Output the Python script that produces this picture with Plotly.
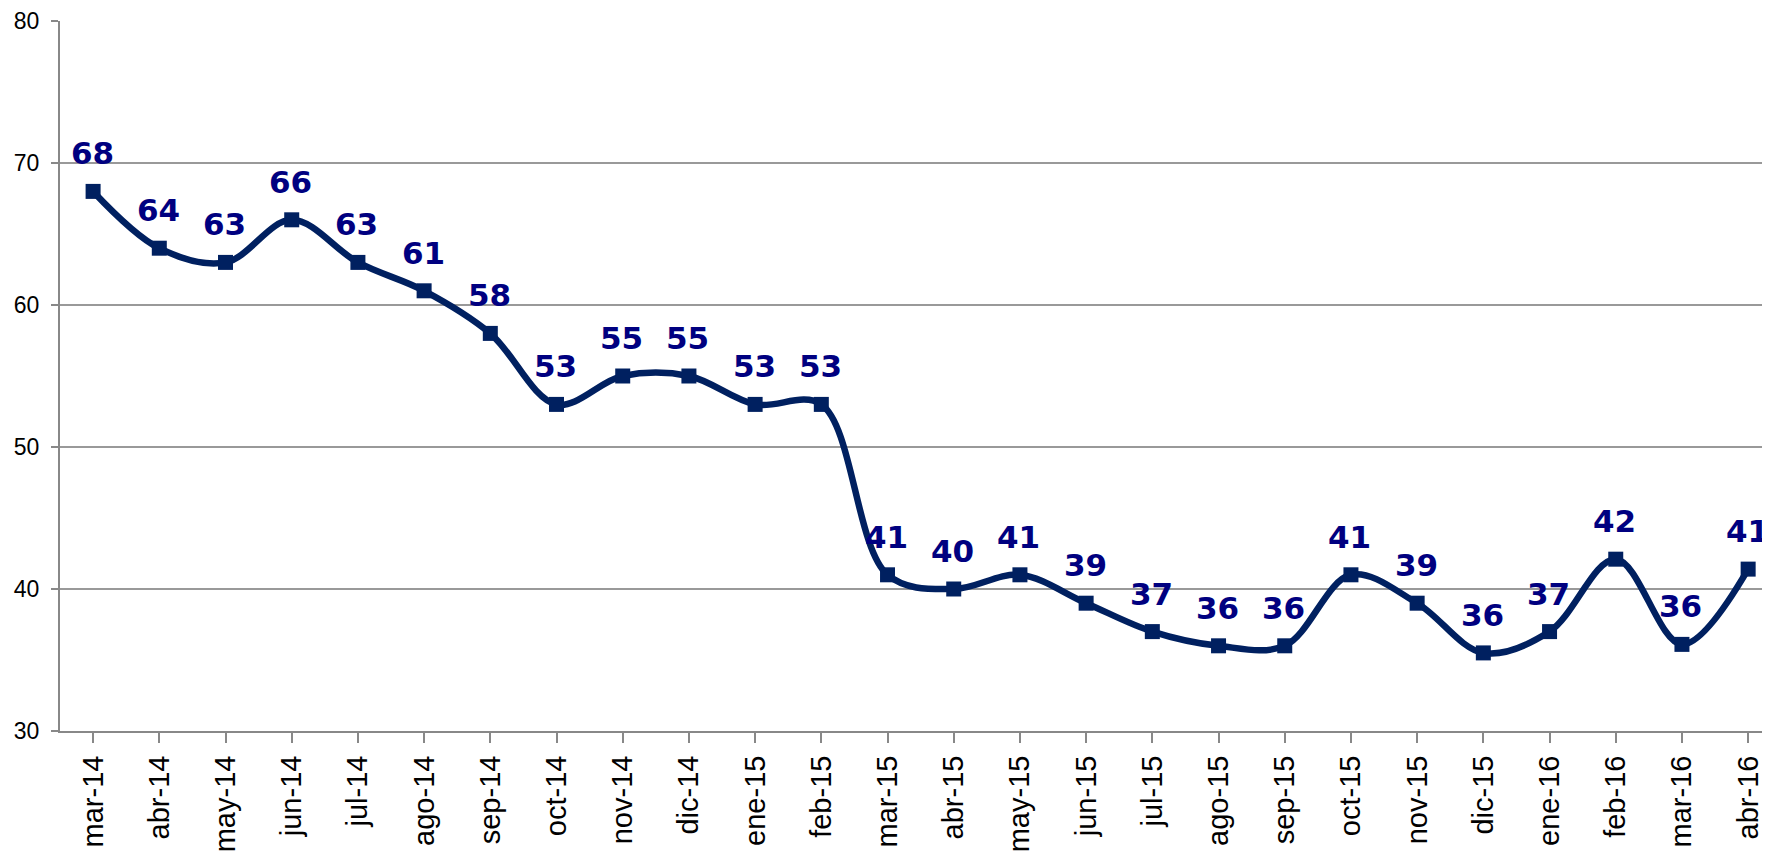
import plotly.graph_objects as go

months = ["mar-14", "abr-14", "may-14", "jun-14", "jul-14", "ago-14", "sep-14", "oct-14",
          "nov-14", "dic-14", "ene-15", "feb-15", "mar-15", "abr-15", "may-15", "jun-15",
          "jul-15", "ago-15", "sep-15", "oct-15", "nov-15", "dic-15", "ene-16", "feb-16",
          "mar-16", "abr-16"]
values = [68, 64, 63, 66, 63, 61, 58, 53, 55, 55, 53, 53, 41, 40, 41, 39, 37, 36, 36, 41,
          39, 35.5, 37, 42.1, 36.1, 41.4]
labels = ["68", "64", "63", "66", "63", "61", "58", "53", "55", "55", "53", "53", "41", "40",
          "41", "39", "37", "36", "36", "41", "39", "36", "37", "42", "36", "41"]
y_ticks = [30, 40, 50, 60, 70, 80]

idx = list(range(len(months)))

fig = go.Figure()
fig.add_trace(go.Scatter(
    x=idx, y=values, mode="lines+markers",
    line=dict(color="#002060", width=6.5, shape="spline", smoothing=1),
    marker=dict(symbol="square", size=15, color="#002060"),
    hoverinfo="skip", showlegend=False,
))

for i, v, t in zip(idx, values, labels):
    fig.add_annotation(x=i, y=v, text=t, showarrow=False, yanchor="bottom",
                       yshift=18, xshift=-1,
                       font=dict(family="DejaVu Sans", size=31, color="#000080", weight="bold"))

fig.update_layout(
    width=1762, height=847,
    margin=dict(l=52, r=0, t=13, b=124, autoexpand=False),
    paper_bgcolor="white", plot_bgcolor="white",
    font=dict(family="Liberation Sans, Arial", size=20, color="black"),
)
fig.update_xaxes(
    range=[-0.5, 25.33], tickmode="array", tickvals=idx, ticktext=months,
    tickangle=-90, tickson="boundaries", ticks="outside", ticklen=10, tickwidth=2,
    tickcolor="#888888", showline=True, linecolor="#888888", linewidth=2,
    showgrid=False, zeroline=False, tickfont=dict(size=29), ticklabelstandoff=1,
    automargin=False,
)
fig.update_yaxes(
    range=[30, 80], tickmode="array", tickvals=y_ticks,
    ticks="outside", ticklen=7, tickwidth=2, tickcolor="#888888",
    showline=True, linecolor="#888888", linewidth=2,
    showgrid=True, gridcolor="#999999", gridwidth=2, zeroline=False,
    tickfont=dict(size=23), ticklabelstandoff=7, automargin=False,
)

fig.write_html("out.html")
